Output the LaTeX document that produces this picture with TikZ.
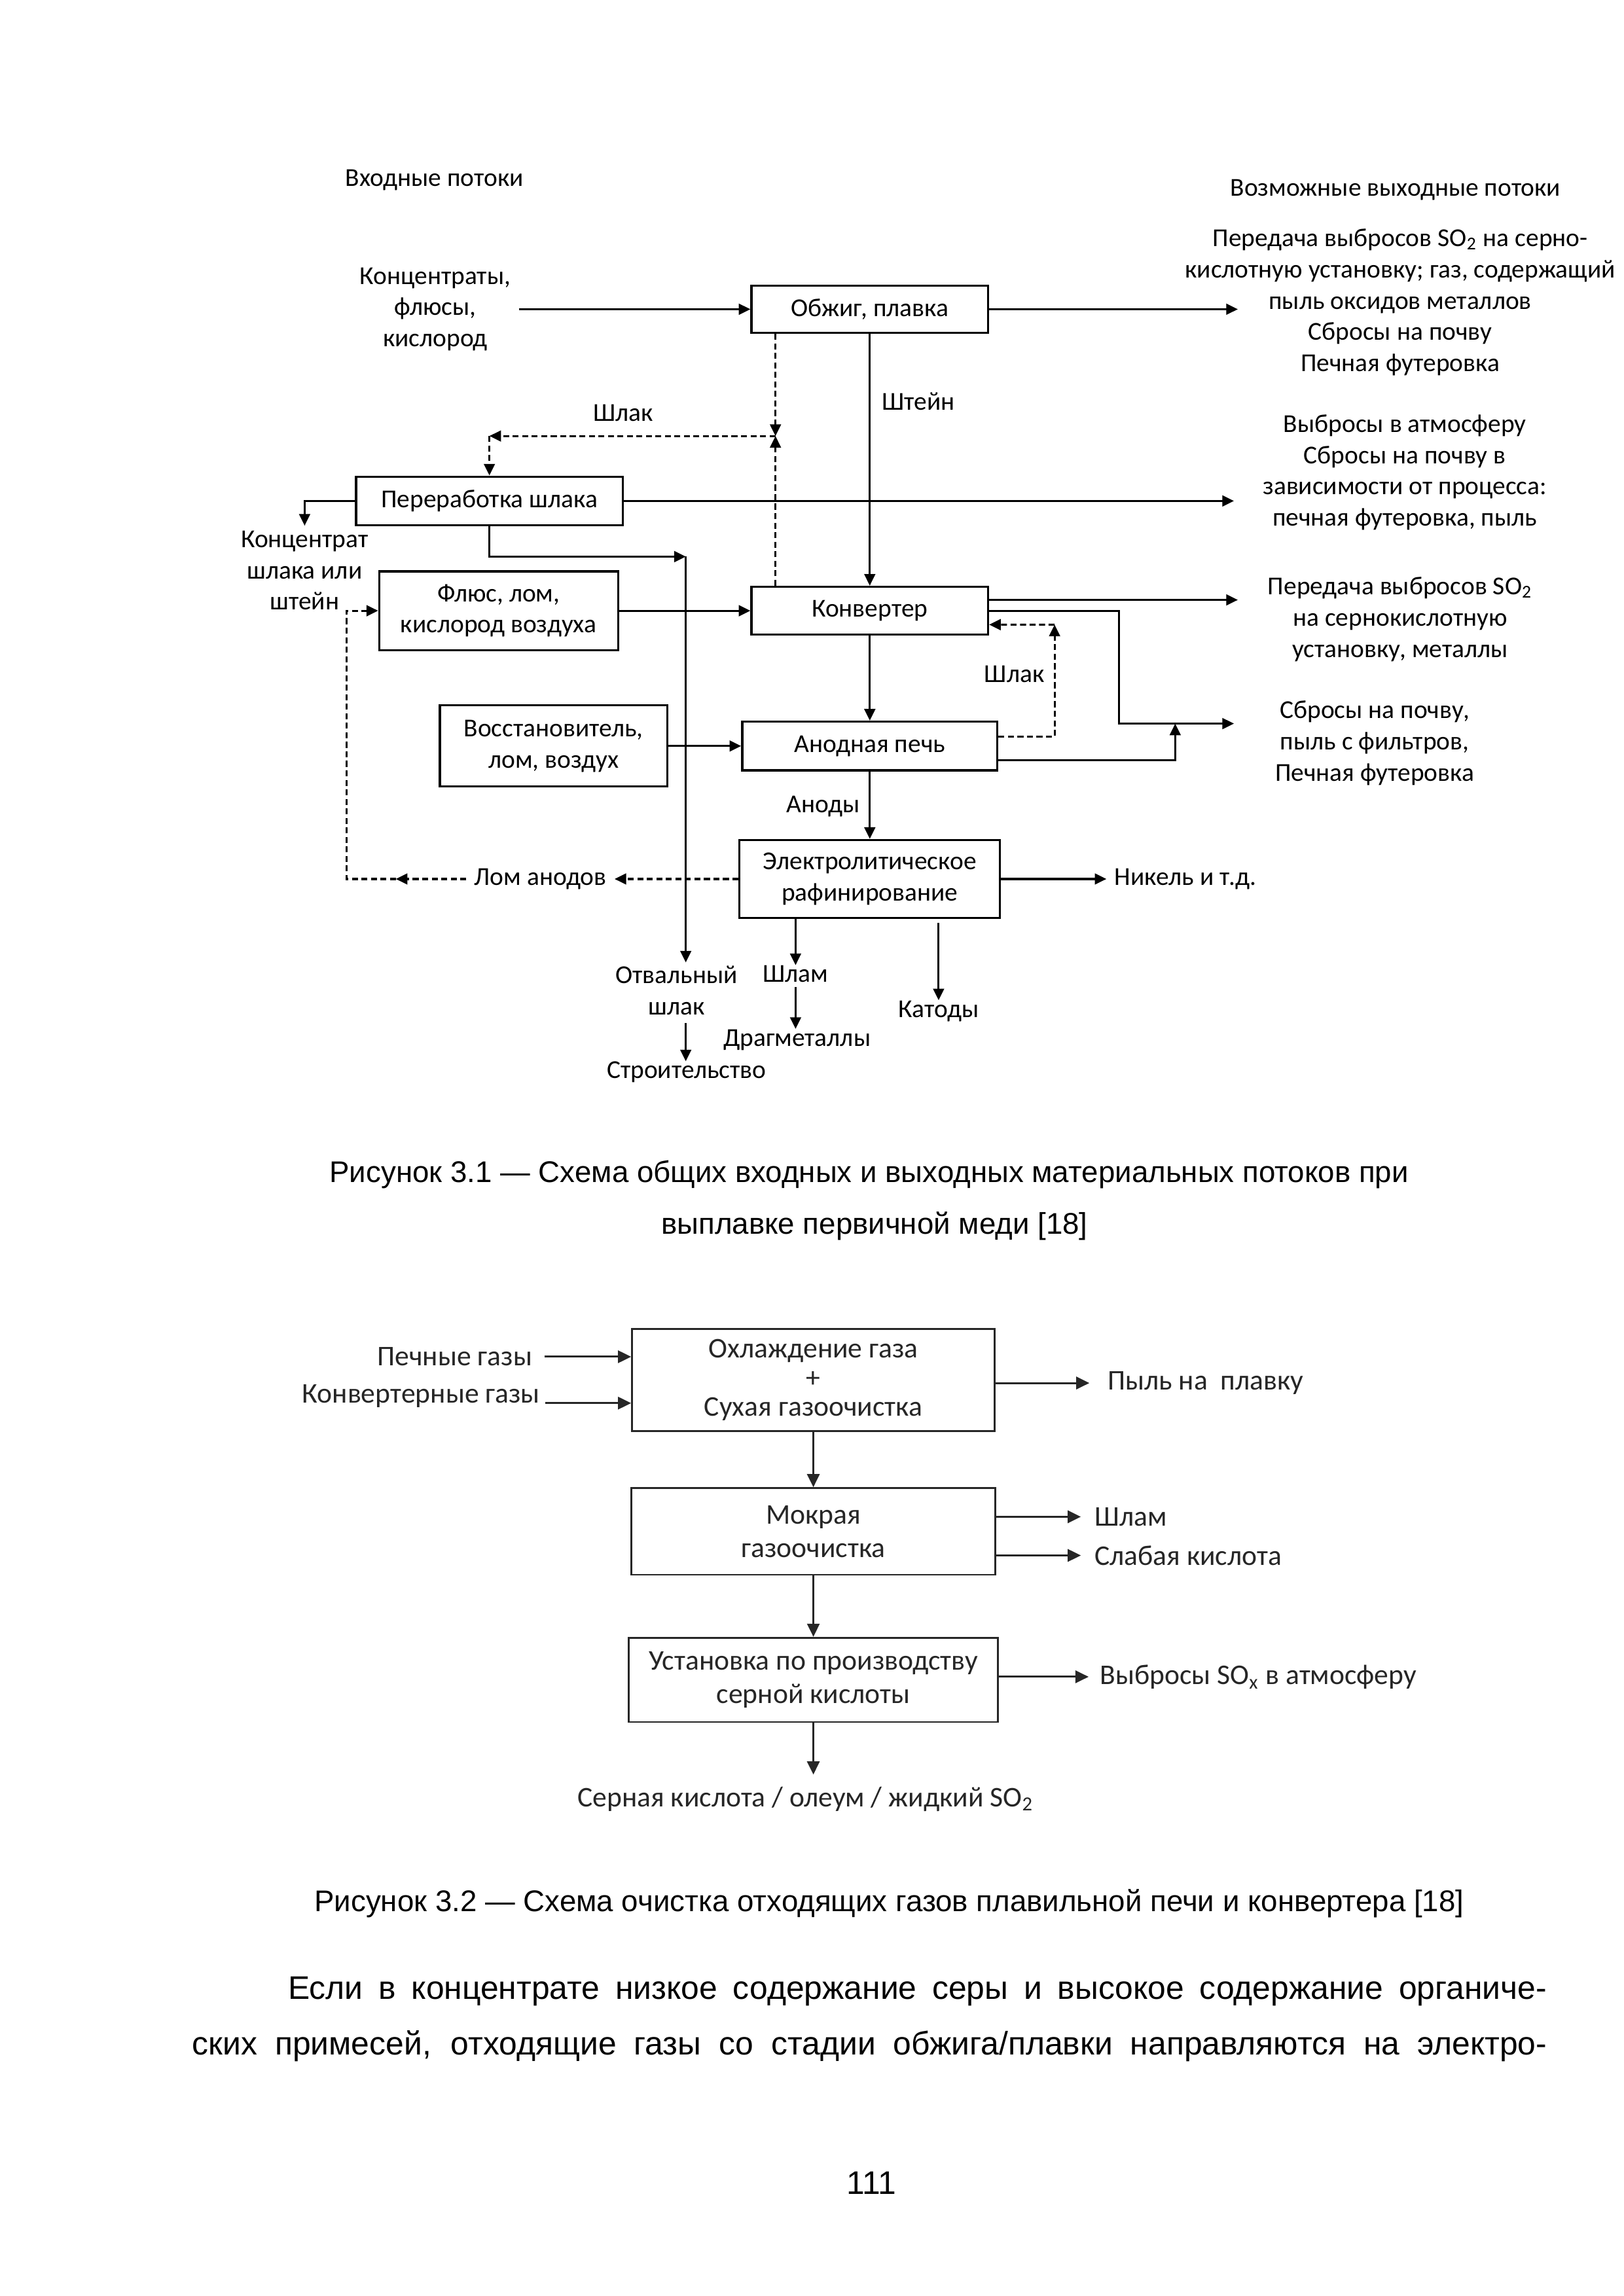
\documentclass[tikz,border=0pt]{standalone}
\usepackage{fontspec}
\setmainfont{Liberation Sans}
\newfontfamily\diagfont{Carlito}
\usetikzlibrary{arrows.meta,calc,positioning}

\tikzset{
  lab/.style={align=center, inner sep=0pt, font=\diagfont\fontsize{9.5}{11.5}\selectfont},
  box/.style={lab, draw, line width=0.8pt},
  flow/.style={line width=0.75pt, -{Triangle[length=1.5mm,width=1.4mm]}},
  back/.style={flow, dash pattern=on 2.2pt off 1.3pt},
  lab2/.style={align=center, inner sep=0pt, text=black!85, font=\diagfont\fontsize{10.5}{12.25}\selectfont},
  box2/.style={lab2, draw=black!85, line width=0.7pt},
  flow2/.style={line width=0.75pt, draw=black!85, -{Triangle[length=1.7mm,width=1.6mm]}},
  captxt/.style={inner sep=0pt, font=\fontsize{11}{13}\selectfont},
  bodytxt/.style={inner sep=0pt, font=\fontsize{12}{14}\selectfont},
}

\begin{document}
\begin{tikzpicture}
\fill[white] (0,0) rectangle (21,-29.7);
\useasboundingbox (0,0) rectangle (21,-29.7);

% figure 3.1
\node[lab] (inhead) at (5.62,-2.33) {Входные потоки};
\node[lab] (outhead) at (18.05,-2.46) {Возможные выходные потоки};

\node[box, minimum width=3.06cm, minimum height=0.61cm] (ob) at (11.25,-4.00) {Обжиг, плавка};
\node[box, minimum width=3.45cm, minimum height=0.63cm] (ps) at (6.33,-6.48) {Переработка шлака};
\node[box, minimum width=3.09cm, minimum height=1.02cm] (fl) at (6.45,-7.90) {Флюс, лом,\\кислород воздуха};
\node[box, minimum width=3.06cm, minimum height=0.62cm] (kv) at (11.25,-7.90) {Конвертер};
\node[box, minimum width=2.94cm, minimum height=1.05cm] (vo) at (7.16,-9.65) {Восстановитель,\\лом, воздух};
\node[box, minimum width=3.30cm, minimum height=0.63cm] (an) at (11.25,-9.65) {Анодная печь};
\node[box, minimum width=3.37cm, minimum height=1.01cm] (el) at (11.25,-11.37) {Электролитическое\\рафинирование};

\node[lab] (inp) at (5.63,-4.00) {Концентраты,\\флюсы,\\кислород};
\node[lab] (out1) at (18.11,-3.91) {Передача выбросов SO\textsubscript{2} на серно-\\кислотную установку; газ, содержащий\\пыль оксидов металлов\\Сбросы на почву\\Печная футеровка};
\node[lab] (out2) at (18.17,-6.11) {Выбросы в атмосферу\\Сбросы на почву в\\зависимости от процесса:\\печная футеровка, пыль};
\node[lab] (out3) at (18.11,-8.01) {Передача выбросов SO\textsubscript{2}\\на сернокислотную\\установку, металлы};
\node[lab] (out4) at (17.78,-9.61) {Сбросы на почву,\\пыль с фильтров,\\Печная футеровка};

\node[lab] (shteyn) at (11.88,-5.19) {Штейн};
\node[lab] (shlak1) at (8.06,-5.34) {Шлак};
\node[lab] (konc) at (3.94,-7.38) {Концентрат\\шлака или\\штейн};
\node[lab] (shlak2) at (13.12,-8.72) {Шлак};
\node[lab] (anody) at (10.65,-10.43) {Аноды};
\node[lab] (lom) at (6.99,-11.37) {Лом анодов};
\node[lab, anchor=west] (nikel) at (14.41,-11.37) {Никель и т.д.};
\node[lab] (otval) at (8.75,-12.81) {Отвальный\\шлак};
\node[lab] (stroi) at (8.88,-13.87) {Строительство};
\node[lab] (shlam) at (10.29,-12.60) {Шлам};
\node[lab] (drag) at (10.31,-13.45) {Драгметаллы};
\node[lab] (katody) at (12.14,-13.08) {Катоды};

\coordinate (ob-o) at (16.01,-4.00);
\coordinate (sl-j) at (10.03,-5.64);
\coordinate (sl-c) at (6.33,-5.64);
\coordinate (ps-o) at (15.96,-6.48);
\coordinate (konc-n) at (3.94,-6.80);
\coordinate (ps-c) at (8.87,-7.20);
\coordinate (otv-n) at (8.87,-12.45);
\coordinate (kv-o) at (16.01,-7.76);
\coordinate (kv-k) at (14.47,-9.36);
\coordinate (kv-d) at (15.96,-9.36);
\coordinate (an-j) at (15.20,-9.36);
\coordinate (sl2-t) at (13.64,-8.08);
\coordinate (lom-w) at (5.12,-11.37);
\coordinate (lom-c) at (4.48,-11.37);

\draw[flow, shorten <=1mm] (inp) -- (ob);
\draw[flow] (ob) -- (ob-o);
\draw[flow] (ob) -- (kv);
\draw[back] (ob.south -| sl-j) -- (sl-j);
\draw[back] (kv.north -| sl-j) -- (sl-j);
\draw[back] (sl-j) -- (sl-c);
\draw[back] (sl-c) -- (ps);
\draw[flow] (ps) -- (ps-o);
\draw[flow] (ps.west) -| (konc-n);
\draw[flow] (ps.south) |- (ps-c);
\draw[flow] (ps-c) -- (otv-n);
\draw[flow] ([yshift=-1mm]otval.south -| otv-n) -- (stroi.north -| otv-n);
\draw[flow] (fl) -- (kv);
\draw[flow] ([yshift=1.4mm]kv.east) -- (kv-o);
\draw[flow] (kv.east) -| (kv-k) -- (kv-d);
\draw[back] ([yshift=1.2mm]an.east) -| (sl2-t);
\draw[back] (sl2-t) -- ([yshift=-1.8mm]kv.east);
\draw[flow] ([yshift=-1.8mm]an.east) -| (an-j);
\draw[flow] (kv) -- (an);
\draw[flow] (vo) -- (an);
\draw[flow] (an) -- (el);
\draw[flow, shorten >=1mm] (el.east) -- (nikel.west);
\draw[back, shorten >=1mm] (el.west) -- (lom.east);
\draw[back, shorten <=1mm] (lom.west) -- (lom-w);
\draw[back] (lom-w) -- (lom-c) |- (fl.west);
\draw[flow] (el.south -| shlam) -- (shlam.north);
\draw[flow] ([yshift=-0.5mm]shlam.south) -- (drag.north -| shlam);
\draw[flow] ([yshift=-0.5mm]el.south -| katody) -- (katody.north);

% figure 3.2
\node[box2, minimum width=4.69cm, minimum height=1.32cm, font=\diagfont\fontsize{10.5}{10.7}\selectfont] (ox) at (10.52,-17.85) {Охлаждение газа\\+\\Сухая газоочистка};
\node[box2, minimum width=4.71cm, minimum height=1.12cm] (mk) at (10.52,-19.81) {Мокрая\\газоочистка};
\node[box2, minimum width=4.77cm, minimum height=1.09cm] (us) at (10.52,-21.73) {Установка по производству\\серной кислоты};

\node[lab2, anchor=east] (pech) at (6.89,-17.55) {Печные газы};
\node[lab2, anchor=east] (konv) at (6.99,-18.06) {Конвертерные газы};
\node[lab2, anchor=west] (pyl) at (14.32,-17.89) {Пыль на\ \ плавку};
\node[lab2, anchor=west] (shlamb) at (14.15,-19.62) {Шлам};
\node[lab2, anchor=west] (kisl) at (14.15,-20.12) {Слабая кислота};
\node[lab2, anchor=west] (vybr) at (14.22,-21.69) {Выбросы SO\textsubscript{x} в атмосферу};
\node[lab2] (sern) at (10.42,-23.27) {Серная кислота / олеум / жидкий SO\textsubscript{2}};

\coordinate (konv-s) at (7.05,-18.15);

\draw[flow2, shorten <=1.5mm] (pech.east) -- (pech.east -| ox.west);
\draw[flow2] (konv-s) -- (konv-s -| ox.west);
\draw[flow2, shorten >=2.3mm] (ox.east |- pyl.west) -- (pyl.west);
\draw[flow2] (ox) -- (mk);
\draw[flow2, shorten >=1.7mm] (mk.east |- shlamb.west) -- (shlamb.west);
\draw[flow2, shorten >=1.7mm] (mk.east |- kisl.west) -- (kisl.west);
\draw[flow2] (mk) -- (us);
\draw[flow2, shorten >=1.4mm] (us.east |- vybr.west) -- (vybr.west);
\draw[flow2] (us.south) -- ([yshift=1.5mm]sern.north -| us.south);

% captions and text
\node[captxt] (cap1a) at (11.24,-15.19) {Рисунок 3.1 — Схема общих входных и выходных материальных потоков при};
\node[captxt] (cap1b) at (11.31,-15.86) {выплавке первичной меди [18]};
\node[captxt] (cap2) at (11.50,-24.62) {Рисунок 3.2 — Схема очистка отходящих газов плавильной печи и конвертера [18]};
\node[bodytxt, anchor=west] (par1) at (3.72,-25.76) {\makebox[16.28cm][s]{Если в концентрате низкое содержание серы и высокое содержание органиче-}};
\node[bodytxt, anchor=west] (par2) at (2.48,-26.47) {\makebox[17.52cm][s]{ских примесей, отходящие газы со стадии обжига/плавки направляются на электро-}};
\node[bodytxt] (pgnum) at (11.27,-28.24) {111};
\end{tikzpicture}
\end{document}
